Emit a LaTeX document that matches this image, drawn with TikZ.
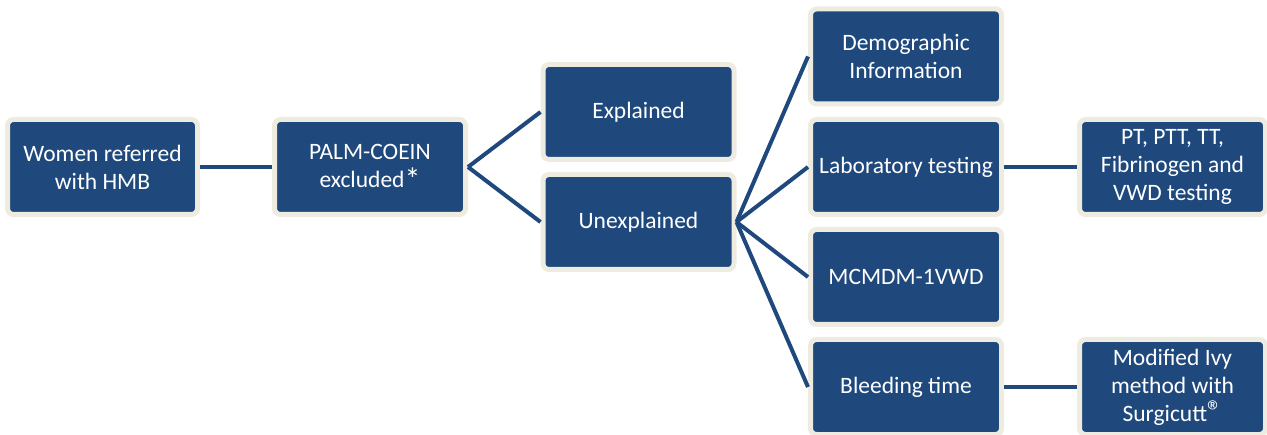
\documentclass[tikz,border=0pt]{standalone}
\usepackage{fontspec}
\setmainfont{Carlito}
\definecolor{boxblue}{RGB}{31,73,125}
\definecolor{rimbeige}{RGB}{238,236,225}
\newcommand{\regmark}{{\fontsize{30}{28}\selectfont ®}}
\newcommand{\astmark}{\raisebox{-0.12em}{\fontsize{32}{28}\selectfont *}}
\begin{document}
\begin{tikzpicture}[x=1pt,y=1pt,
  box/.style={draw=rimbeige, fill=boxblue, line width=5pt, rounded corners=6pt,
    minimum width=191pt, minimum height=95pt, text=white, align=center,
    inner sep=2pt, font=\fontsize{23.5}{28}\selectfont},
  smallbox/.style={box, minimum width=186pt},
  link/.style={draw=boxblue, line width=4pt}]
\useasboundingbox (0,0) rectangle (1267,434);
\node[box, minimum width=190pt] (women) at (102.5,267) {Women referred\\with HMB};
\node[box] (palm) at (370,267) {PALM-COEIN\\excluded\astmark};
\node[box] (expl) at (638.5,322) {Explained};
\node[box] (unexpl) at (638.5,212) {Unexplained};
\node[box] (demo) at (906,377.5) {Demographic\\Information};
\node[box] (lab) at (906,267) {Laboratory testing};
\node[box] (mcmdm) at (906,157) {MCMDM-1VWD};
\node[box] (bleed) at (906,47) {Bleeding time};
\node[smallbox] (pt) at (1172.5,267) {PT, PTT, TT,\\Fibrinogen and\\VWD testing};
\node[smallbox] (ivy) at (1172.5,47) {Modified Ivy\\method with\\Surgicutt\regmark};
\draw[link] (women.east) -- (palm.west);
\draw[link] (palm.east) -- (expl.west);
\draw[link] (palm.east) -- (unexpl.west);
\draw[link] (unexpl.east) -- (demo.west);
\draw[link] (unexpl.east) -- (lab.west);
\draw[link] (unexpl.east) -- (mcmdm.west);
\draw[link] (unexpl.east) -- (bleed.west);
\draw[link] (lab.east) -- (pt.west);
\draw[link] (bleed.east) -- (ivy.west);
\end{tikzpicture}
\end{document}
